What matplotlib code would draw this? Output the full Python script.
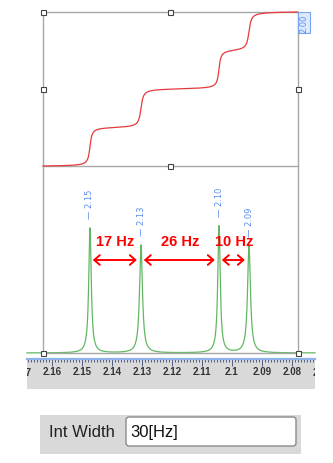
import numpy as np
import matplotlib.pyplot as plt
from matplotlib.patches import Rectangle, FancyBboxPatch
from matplotlib.ticker import MultipleLocator, FuncFormatter

# spectrometer frequency (MHz) and peak list
sf = 1000.0
first_peak = 2.1473                      # ppm
splittings_hz = [0.0, 17.0, 43.0, 53.0]  # offsets from the first line
heights = [100.0, 86.4, 101.6, 85.6]
fwhm_hz = [1.00, 1.16, 0.98, 1.17]

# window and integration region (ppm)
ppm_left, ppm_right = 2.1683, 2.0723
int_from, int_to = 2.1630, 2.0780
integral_total = 2.00
int_width_text = '30[Hz]'

peaks = [first_peak - d / sf for d in splittings_hz]

ppm = np.linspace(ppm_left, ppm_right, 4000)
spec = np.zeros_like(ppm)
for p, h, w in zip(peaks, heights, fwhm_hz):
    g = w / 2 / sf
    spec += h * g**2 / ((ppm - p)**2 + g**2)

mask = (ppm <= int_from) & (ppm >= int_to)
x_int = ppm[mask]
y_int = np.cumsum(spec[mask])
y_int = y_int / y_int[-1] * integral_total

W, H = 333, 464


def frac(x0, y0, x1, y1):
    return [x0 / W, 1 - y1 / H, (x1 - x0) / W, (y1 - y0) / H]


fig = plt.figure(figsize=(W / 100, H / 100), dpi=100)

green = '#62b862'
red_int = '#e5393e'
box_gray = '#a8a8a8'
blue = '#5b8def'

# spectrum
ax = fig.add_axes(frac(27, 13, 315, 354))
spec_top = heights[0] * 341 / 125
ax.set_xlim(ppm_left, ppm_right)
ax.set_ylim(0, spec_top)
ax.axis('off')
ax.plot(ppm, spec, color=green, lw=0.9, zorder=3, clip_on=False)
ax.hlines(0, int_from, int_to, color=box_gray, lw=1.0, zorder=4, clip_on=False)
ax.vlines([int_from, int_to], 0, spec_top, color=box_gray, lw=1.0, zorder=2)

for p, h in zip(peaks, heights):
    ax.annotate('\u2014 %.2f' % p, (p, h), xytext=(0, 7), textcoords='offset points',
                rotation=90, ha='center', va='bottom', fontsize=6, color=blue,
                annotation_clip=False)

arrow_y = spec_top * (354 - 261) / 341
text_y = spec_top * (354 - 242) / 341
for a, b in zip(peaks[:-1], peaks[1:]):
    ax.annotate('', xy=(b, arrow_y), xytext=(a, arrow_y),
                arrowprops=dict(arrowstyle='<->,head_length=0.4,head_width=0.35',
                                color='red', lw=1.4, shrinkA=2, shrinkB=3,
                                mutation_scale=10))
    ax.text((a + b) / 2, text_y, '%d Hz' % round((a - b) * sf), color='red',
            fontsize=10.5, fontweight='bold', family='Liberation Sans',
            ha='center', va='center')

# integral curve
ai = fig.add_axes(frac(27, 13, 315, 167))
ai.set_xlim(ppm_left, ppm_right)
ai.set_ylim(0, integral_total)
ai.axis('off')
ai.patch.set_alpha(0)
ai.plot(x_int, y_int, color=red_int, lw=0.9, zorder=3, clip_on=False)
ai.hlines([0, integral_total], int_from, int_to, color=box_gray, lw=1.0, zorder=2,
          clip_on=False)
ai.annotate('%.2f' % integral_total, (int_to, integral_total), xytext=(1.3, -1.0),
            textcoords='offset points', rotation=90, ha='left', va='top',
            fontsize=6, color=blue, annotation_clip=False,
            bbox=dict(boxstyle='square,pad=0.2', fc='#dde9fc', ec='#78a4f0', lw=0.8))

# selection handles
mid = (int_from + int_to) / 2
hx = [int_from, mid, int_from, int_to, mid]
hy = [integral_total, integral_total, integral_total / 2, integral_total / 2, 0]
ai.plot(hx, hy, ls='none', marker='s', ms=3.6, mfc='white', mec='#444444',
        mew=0.8, zorder=5, clip_on=False)
ax.plot([int_from, int_to], [0, 0], ls='none', marker='s', ms=3.6, mfc='white',
        mec='#444444', mew=0.8, zorder=5, clip_on=False)

# ppm ruler
ar = fig.add_axes(frac(27, 360, 315, 390))
ar.set_xlim(ppm_left, ppm_right)
ar.set_ylim(0, 1)
ar.set_facecolor('#d9d9d9')
for s in ['left', 'right', 'bottom']:
    ar.spines[s].set_visible(False)
ar.spines['top'].set_color('#8fb2ea')
ar.spines['top'].set_linewidth(1.6)
ar.set_yticks([])
ar.xaxis.set_major_locator(MultipleLocator(0.01))
ar.xaxis.set_minor_locator(MultipleLocator(0.001))
ar.xaxis.set_major_formatter(FuncFormatter(lambda v, pos: '%g' % round(v, 2)))
ar.xaxis.set_ticks_position('top')
ar.tick_params(axis='x', which='both', direction='in', color='#4d5d82', width=0.7,
               labeltop=True, labelbottom=False)
ar.tick_params(axis='x', which='major', length=5, pad=-12, labelsize=7,
               labelcolor='#333333')
ar.tick_params(axis='x', which='minor', length=2.5)
for lab in ar.get_xticklabels():
    lab.set_fontfamily('Liberation Sans')
    lab.set_fontweight('bold')
for v in [2.17, 2.07]:
    ar.text(v, 0.58, '%g' % v, transform=ar.get_xaxis_transform(), ha='center',
            va='center', fontsize=7, fontweight='bold', family='Liberation Sans',
            color='#333333', clip_on=True)

# integration width field
ov = fig.add_axes([0, 0, 1, 1])
ov.set_xlim(0, W)
ov.set_ylim(H, 0)
ov.axis('off')
ov.patch.set_alpha(0)
ov.add_patch(Rectangle((40, 416), 261, 39, fc='#d9d9d9', ec='none'))
ov.add_patch(FancyBboxPatch((126, 418), 170, 29, boxstyle='round,pad=0,rounding_size=3',
                            fc='white', ec='#8a8a8a', lw=1.0))
ov.text(49, 433, 'Int Width', fontsize=12, family='Liberation Sans', color='#222222',
        va='center', ha='left')
ov.text(130, 433, int_width_text, fontsize=12, family='Liberation Sans',
        color='#111111', va='center', ha='left')

fig.savefig('out.png', dpi=100)
